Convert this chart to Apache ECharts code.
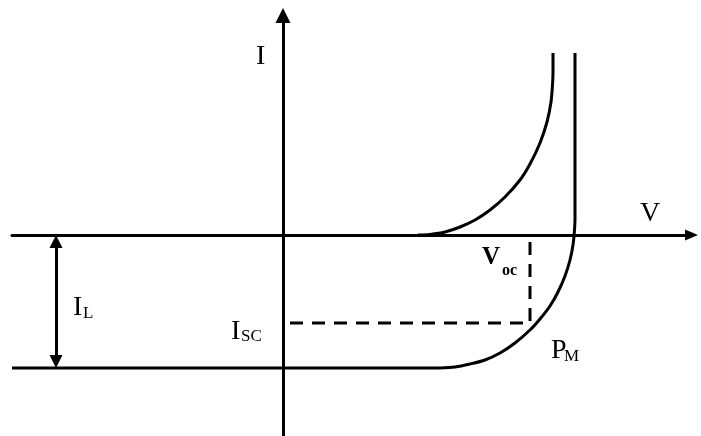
<!DOCTYPE html>
<html>
<head>
<meta charset="utf-8">
<script src="https://cdn.jsdelivr.net/npm/echarts@6/dist/echarts.min.js"></script>
<style>html,body{margin:0;padding:0;background:#fff;}#c{width:701px;height:436px;}</style>
</head>
<body>
<div id="c"></div>
<script>
// Dark (unilluminated) diode curve: [V, I]
const darkCurve = [[1.35,0],[1.47,0.006],[1.62,0.03],[1.77,0.08],[1.92,0.15],[2.07,0.25],[2.22,0.38],[2.37,0.55],[2.47,0.71],[2.57,0.92],[2.64,1.13],[2.68,1.33],[2.695,1.50],[2.70,1.62]];
const darkVertical = [[2.70,1.62],[2.70,1.82]];
// Illuminated curve, shifted down by I_L
const lightFlat = [[-2.71,-1.33],[1.57,-1.33]];
const lightCurve = [[1.57,-1.33],[1.72,-1.32],[1.87,-1.29],[2.02,-1.25],[2.17,-1.18],[2.32,-1.08],[2.47,-0.95],[2.57,-0.84],[2.67,-0.71],[2.75,-0.57],[2.82,-0.41],[2.87,-0.25],[2.90,-0.10],[2.915,0.05],[2.92,0.15]];
const lightVertical = [[2.92,0.15],[2.92,1.82]];
// Maximum power point (Vm, Im) and the dashed guides
const pmPoint = [2.47, -0.88];
const iscStart = 0.07;
const ilValue = -1.33;
const ilArrowX = -2.27;
const xRange = [-2.71, 4.085];
const yRange = [-2.01, 2.195];
const arrowPad = 0.065; // half the arrow-head height, in axis units

const chart = echarts.init(document.getElementById('c'), null, {renderer: 'canvas'});
const serif = '"Liberation Serif", "Times New Roman", serif';
function txt(x, y, s, size, bold) {
  return {type: 'text', x: x, y: y, style: {text: s, fontFamily: serif, fontSize: size, fontWeight: bold ? 'bold' : 'normal', fill: '#000', verticalAlign: 'middle', align: 'left'}};
}
const solid = {color: '#000', width: 3};
function plain(data, smooth) {
  return {type: 'line', data: data, smooth: smooth, showSymbol: false, lineStyle: solid};
}
chart.setOption({
  animation: false,
  backgroundColor: '#fff',
  grid: {left: 12, right: 9.5, top: 15.5, bottom: 0, containLabel: false},
  xAxis: {type: 'value', min: xRange[0], max: xRange[1], splitLine: {show: false}, axisTick: {show: false}, axisLabel: {show: false},
    axisLine: {onZero: true, symbol: ['none', 'triangle'], symbolSize: [11, 13], lineStyle: {color: '#000', width: 3}}},
  yAxis: {type: 'value', min: yRange[0], max: yRange[1], splitLine: {show: false}, axisTick: {show: false}, axisLabel: {show: false},
    axisLine: {onZero: true, symbol: ['none', 'triangle'], symbolSize: [15, 15], lineStyle: {color: '#000', width: 3}}},
  series: [
    plain(darkCurve, 0.3),
    plain(darkVertical, false),
    plain(lightFlat, false),
    plain(lightCurve, 0.3),
    plain(lightVertical, false),
    {type: 'line', data: [[iscStart, pmPoint[1]], pmPoint, [pmPoint[0], 0]], showSymbol: false,
      lineStyle: {color: '#000', width: 3, type: [13, 9]}},
    {type: 'line', data: [], markLine: {silent: true, symbol: ['triangle', 'triangle'], symbolSize: [13, 13], label: {show: false},
      lineStyle: {color: '#000', width: 3, type: 'solid'},
      data: [[{coord: [ilArrowX, -arrowPad]}, {coord: [ilArrowX, ilValue + arrowPad]}]]}}
  ],
  graphic: [
    txt(256, 57, 'I', 28),
    txt(640, 214, 'V', 28),
    txt(73, 308, 'I', 28), txt(83, 314, 'L', 17),
    txt(231, 332, 'I', 28), txt(241, 337, 'SC', 17),
    txt(482, 258, 'V', 25, true), txt(502, 271, 'oc', 16, true),
    txt(551, 351, 'P', 28), txt(564, 357, 'M', 17)
  ]
});
</script>
</body>
</html>
